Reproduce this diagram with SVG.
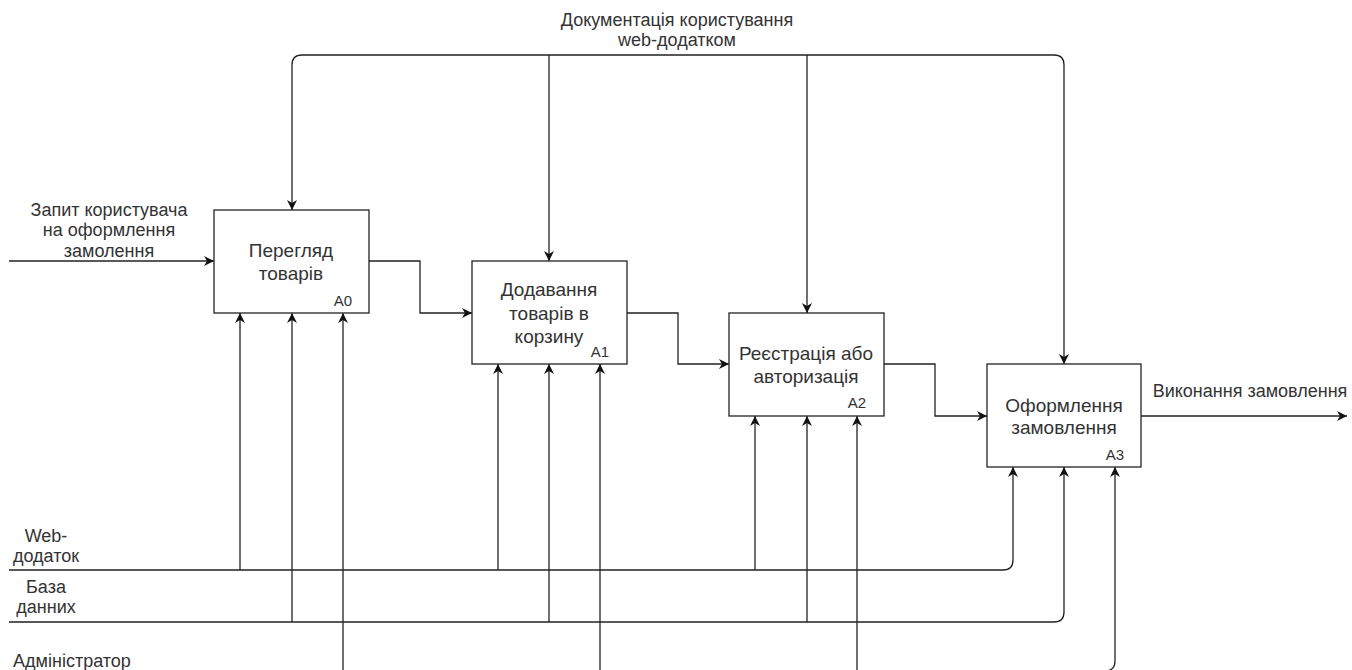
<svg xmlns="http://www.w3.org/2000/svg" width="1352" height="670" viewBox="0 0 1352 670">
<defs>
<marker id="arr" markerUnits="userSpaceOnUse" markerWidth="12" markerHeight="12" refX="10" refY="5" orient="auto" viewBox="0 0 12 10">
<path d="M0,0 L10,5 L0,10 L3,5 z" fill="#111"/>
</marker>
<style>
.box{fill:#fff;stroke:#222;stroke-width:1.3}
.ln{fill:none;stroke:#222;stroke-width:1.3}
.ar{fill:none;stroke:#222;stroke-width:1.3;marker-end:url(#arr)}
.t{font-family:"Liberation Sans",Arial,sans-serif;font-size:19px;fill:#333;text-anchor:middle}
.lb{font-family:"Liberation Sans",Arial,sans-serif;font-size:18px;fill:#333;text-anchor:middle}
.id{font-family:"Liberation Sans",Arial,sans-serif;font-size:15px;fill:#333;text-anchor:middle}
</style>
</defs>
<rect width="1352" height="670" fill="#fff"/>
<g id="connectors">
<path class="ar" d="M9,261 H214"/>
<path class="ar" d="M369,261 H420 V313 H472"/>
<path class="ar" d="M627,313 H678 V364 H729"/>
<path class="ar" d="M884,364 H935 V416 H987"/>
<path class="ar" d="M1141,416 H1347"/>
<path class="ar" d="M807,55 H302 Q292,55 292,65 V210"/>
<path class="ar" d="M807,55 H1054 Q1064,55 1064,65 V364"/>
<path class="ar" d="M549,55 V261"/>
<path class="ar" d="M807,55 V313"/>
<path class="ar" d="M9,570 H1003 Q1013,570 1013,560 V467"/>
<path class="ar" d="M240,570 V313"/>
<path class="ar" d="M498,570 V364"/>
<path class="ar" d="M755,570 V416"/>
<path class="ar" d="M9,622 H1054 Q1064,622 1064,612 V467"/>
<path class="ar" d="M292,622 V313"/>
<path class="ar" d="M549,622 V364"/>
<path class="ar" d="M807,622 V416"/>
<path class="ar" d="M343,672 V313"/>
<path class="ar" d="M600,672 V364"/>
<path class="ar" d="M857,672 V416"/>
<path class="ar" d="M1090,671 H1105 Q1115,671 1115,661 V467"/>
</g>
<g id="labels">
<text class="lb" x="677" y="26">Документація користування</text>
<text class="lb" x="677" y="46">web-додатком</text>
<text class="lb" x="109" y="216">Запит користувача</text>
<text class="lb" x="109" y="236">на оформлення</text>
<text class="lb" x="109" y="257">замолення</text>
<text class="lb" x="1250" y="397">Виконання замовлення</text>
<text class="lb" x="46" y="542">Web-</text>
<text class="lb" x="46" y="562">додаток</text>
<text class="lb" x="46" y="593">База</text>
<text class="lb" x="46" y="613">данних</text>
<text class="lb" x="72" y="667">Адміністратор</text>
</g>
<g id="A0">
<rect class="box" x="214" y="210" width="155" height="103"/>
<text class="t" x="291" y="257">Перегляд</text>
<text class="t" x="291" y="280">товарів</text>
<text class="id" x="343" y="306">A0</text>
</g>
<g id="A1">
<rect class="box" x="472" y="261" width="155" height="103"/>
<text class="t" x="549" y="296">Додавання</text>
<text class="t" x="549" y="320">товарів в</text>
<text class="t" x="549" y="343">корзину</text>
<text class="id" x="600" y="357">A1</text>
</g>
<g id="A2">
<rect class="box" x="729" y="313" width="155" height="103"/>
<text class="t" x="806" y="360">Реєстрація або</text>
<text class="t" x="806" y="383">авторизація</text>
<text class="id" x="857" y="408">A2</text>
</g>
<g id="A3">
<rect class="box" x="987" y="364" width="154" height="103"/>
<text class="t" x="1064" y="412">Оформлення</text>
<text class="t" x="1064" y="434">замовлення</text>
<text class="id" x="1115" y="460">A3</text>
</g>
</svg>
